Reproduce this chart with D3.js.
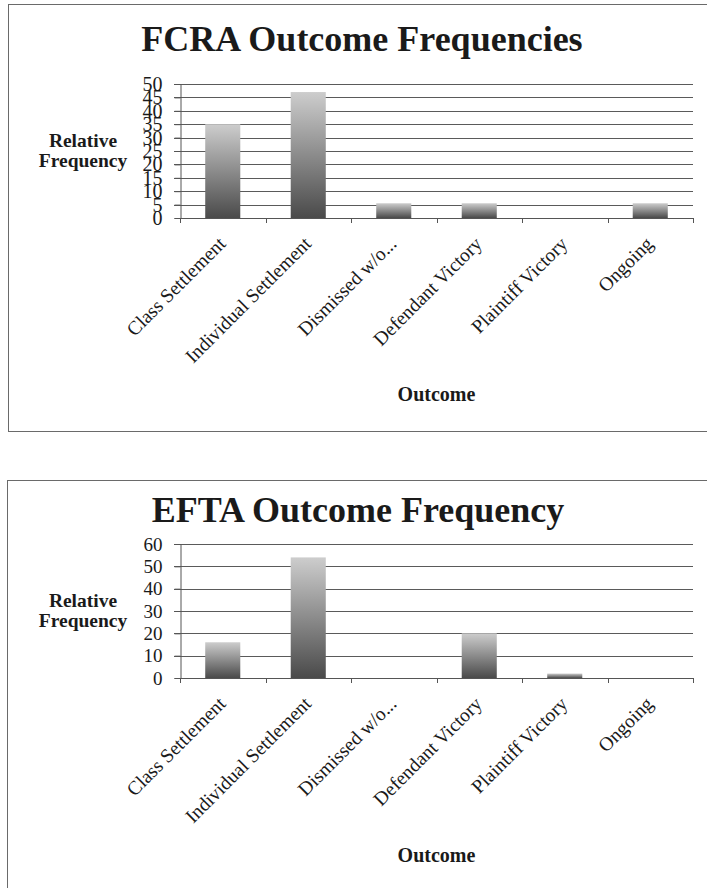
<!DOCTYPE html>
<html>
<head>
<meta charset="utf-8">
<script src="https://cdn.jsdelivr.net/npm/d3@7"></script>
<style>
  html, body { margin: 0; padding: 0; background: #fff; }
  svg { display: block; }
  text { font-family: "Liberation Serif", "DejaVu Serif", serif; fill: #1a1a1a; }
</style>
</head>
<body>
<svg id="chart" width="707" height="888"></svg>
<script>
// ---- data ----
const categories = ["Class Settlement", "Individual Settlement", "Dismissed w/o...", "Defendant Victory", "Plaintiff Victory", "Ongoing"];
const fcraValues = [35, 47, 5.5, 5.5, 0, 5.5];
const eftaValues = [16, 54, 0, 20, 2, 0];
const fcraTicks = [0, 5, 10, 15, 20, 25, 30, 35, 40, 45, 50];
const eftaTicks = [0, 10, 20, 30, 40, 50, 60];
const fcraTitle = "FCRA Outcome Frequencies";
const eftaTitle = "EFTA Outcome Frequency";
const yTitleLines = ["Relative", "Frequency"];
const xTitle = "Outcome";

const svg = d3.select("#chart");

const defs = svg.append("defs");
const grad = defs.append("linearGradient").attr("id", "barGrad")
  .attr("x1", 0).attr("y1", 0).attr("x2", 0).attr("y2", 1);
grad.append("stop").attr("offset", "0%").attr("stop-color", "#cdcdcd");
grad.append("stop").attr("offset", "100%").attr("stop-color", "#4a4a4a");

function drawChart(cfg) {
  const g = svg.append("g");
  // frame
  g.append("rect")
    .attr("x", cfg.frame[0]).attr("y", cfg.frame[1])
    .attr("width", cfg.frame[2]).attr("height", cfg.frame[3])
    .attr("fill", "none").attr("stroke", "#6a6a6a").attr("stroke-width", 1);

  const x = d3.scaleBand().domain(categories).range([cfg.left, cfg.right]).paddingInner(0.59).paddingOuter(0.295);
  const xb = d3.scaleBand().domain(categories).range([cfg.left, cfg.right]);
  const y = d3.scaleLinear().domain([0, cfg.max]).range([cfg.bottom, cfg.top]);

  // gridlines
  g.append("g").selectAll("line").data(cfg.ticks.filter(t => t > 0)).join("line")
    .attr("x1", cfg.left - 6).attr("x2", cfg.right)
    .attr("y1", d => Math.round(y(d)) + 0.5).attr("y2", d => Math.round(y(d)) + 0.5)
    .attr("stroke", "#5a5a5a").attr("stroke-width", 1);

  // bars
  g.append("g").selectAll("rect").data(cfg.values).join("rect")
    .attr("x", (d, i) => x(categories[i]))
    .attr("width", x.bandwidth())
    .attr("y", d => y(d))
    .attr("height", d => cfg.bottom - y(d))
    .attr("fill", "url(#barGrad)");

  // y axis
  const yAxis = d3.axisLeft(y).tickValues(cfg.ticks).tickSize(6).tickPadding(12).tickFormat(d3.format("d"));
  const ya = g.append("g").attr("transform", `translate(${cfg.left + 0.5},0)`).call(yAxis);
  ya.select(".domain").attr("stroke", "#555");
  ya.selectAll(".tick line").attr("stroke", "#555");
  ya.selectAll(".tick text").attr("font-size", cfg.yTickSize).attr("font-family", "Liberation Serif").attr("fill", "#222");

  // x axis with boundary ticks
  const bounds = categories.map(c => xb(c)).concat([cfg.right]);
  g.append("line").attr("x1", cfg.left).attr("x2", cfg.right)
    .attr("y1", cfg.bottom + 0.5).attr("y2", cfg.bottom + 0.5).attr("stroke", "#555");
  g.append("g").selectAll("line").data(bounds).join("line")
    .attr("x1", d => Math.round(d) + 0.5).attr("x2", d => Math.round(d) + 0.5)
    .attr("y1", cfg.bottom).attr("y2", cfg.bottom + 5).attr("stroke", "#555");

  // category labels
  g.append("g").selectAll("text").data(categories).join("text")
    .attr("transform", c => `translate(${xb(c) + xb.bandwidth() / 2 + 4},${cfg.bottom + 27}) rotate(-45)`)
    .attr("text-anchor", "end")
    .attr("font-size", 19.5)
    .text(c => c);

  // title
  g.append("text").attr("x", cfg.titleX).attr("y", cfg.titleY)
    .attr("text-anchor", "middle").attr("font-weight", "bold").attr("font-size", 36)
    .attr("fill", "#222")
    .text(cfg.title);

  // y title
  const yt = g.append("text").attr("text-anchor", "middle").attr("font-weight", "bold").attr("font-size", 19.5);
  yTitleLines.forEach((l, i) => {
    yt.append("tspan").attr("x", 83).attr("y", cfg.yTitleY + i * 20).text(l);
  });

  // x title
  g.append("text").attr("x", (cfg.left + cfg.right) / 2).attr("y", cfg.xTitleY)
    .attr("text-anchor", "middle").attr("font-weight", "bold").attr("font-size", 20)
    .text(xTitle);
}

drawChart({
  frame: [8.5, 4.5, 720, 427],
  left: 180, right: 693, top: 84, bottom: 218, max: 50,
  ticks: fcraTicks, values: fcraValues, yTickSize: 20,
  title: fcraTitle, titleX: 362, titleY: 51,
  yTitleY: 147, xTitleY: 401
});

drawChart({
  frame: [7.5, 480.5, 720, 440],
  left: 180, right: 693, top: 544, bottom: 678, max: 60,
  ticks: eftaTicks, values: eftaValues, yTickSize: 19,
  title: eftaTitle, titleX: 358, titleY: 522,
  yTitleY: 607, xTitleY: 862
});
</script>
</body>
</html>
